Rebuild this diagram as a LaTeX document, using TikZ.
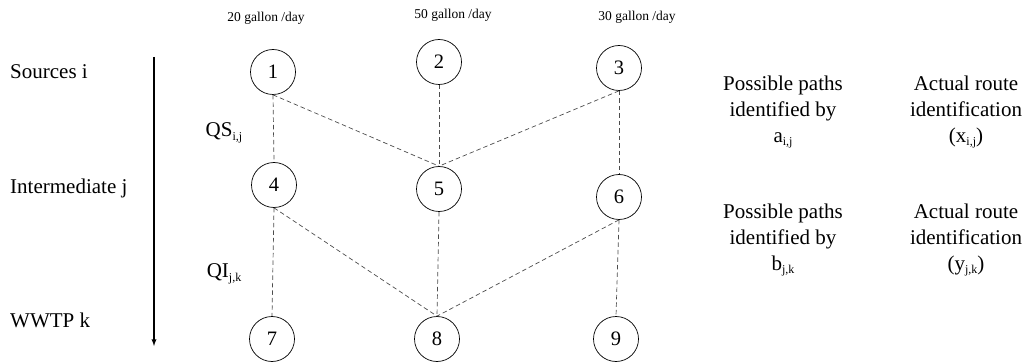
\documentclass[tikz,border=0pt]{standalone}
\usepackage{fontspec}
\setmainfont{Liberation Serif}
\newcommand\lowsub[1]{\raisebox{-0.35ex}{\fontsize{12}{12}\selectfont #1}}
\begin{document}
\begin{tikzpicture}[x=1pt,y=-1pt,
  station/.style={circle,draw,line width=0.7pt,minimum size=45pt,inner sep=0pt,font=\fontsize{20.5}{20.5}\selectfont},
  route/.style={dash pattern=on 4.5pt off 3pt,draw=black!70,line width=0.7pt},
  lefttext/.style={anchor=west,inner sep=0pt,font=\fontsize{21}{26}\selectfont},
  sidetext/.style={align=center,inner sep=0pt,font=\fontsize{21}{26}\selectfont},
  flow/.style={inner sep=0pt,font=\fontsize{13.5}{16}\selectfont},
  qlabel/.style={inner sep=0pt,font=\fontsize{21}{26}\selectfont}]
\useasboundingbox (0,0) rectangle (1032,363);

% flows
\node[flow] (f1) at (266,18) {20 gallon /day};
\node[flow] (f2) at (453,15) {50 gallon /day};
\node[flow] (f3) at (637,17) {30 gallon /day};

% stations
\node[station] (n1) at (273,72) {1};
\node[station] (n2) at (439,62) {2};
\node[station] (n3) at (619,68) {3};
\node[station] (n4) at (274,185) {4};
\node[station] (n5) at (439,189) {5};
\node[station] (n6) at (619,197) {6};
\node[station] (n7) at (272,339) {7};
\node[station] (n8) at (437,339) {8};
\node[station] (n9) at (616,339) {9};

% routes
\draw[route] (n1.south) -- (n4.north);
\draw[route] (n1.south) -- (n5.north);
\draw[route] (n2.south) -- (n5.north);
\draw[route] (n3.south) -- (n5.north);
\draw[route] (n3.south) -- (n6.north);
\draw[route] (n4.south) -- (n7.north);
\draw[route] (n4.south) -- (n8.north);
\draw[route] (n5.south) -- (n8.north);
\draw[route] (n6.south) -- (n8.north);
\draw[route] (n6.south) -- (n9.north);

% left side
\node[lefttext] (src) at (10,72) {Sources i};
\node[lefttext] (mid) at (10,188) {Intermediate j};
\node[lefttext] (wwtp) at (10,320) {WWTP k};
\coordinate (atop) at (154,57);
\coordinate (abot) at (154,346);
\draw[-latex,line width=1.3pt] (atop) -- (abot);

\node[qlabel] (qs) at (224,133) {QS\lowsub{i,j}};
\node[qlabel] (qi) at (224,274) {QI\lowsub{j,k}};

% right side
\node[sidetext] (pa) at (783,112) {Possible paths\\identified by\\a\lowsub{i,j}};
\node[sidetext] (xa) at (966,112) {Actual route\\identification\\(x\lowsub{i,j})};
\node[sidetext] (pb) at (783,240) {Possible paths\\identified by\\b\lowsub{j,k}};
\node[sidetext] (yb) at (966,240) {Actual route\\identification\\(y\lowsub{j,k})};
\end{tikzpicture}
\end{document}
